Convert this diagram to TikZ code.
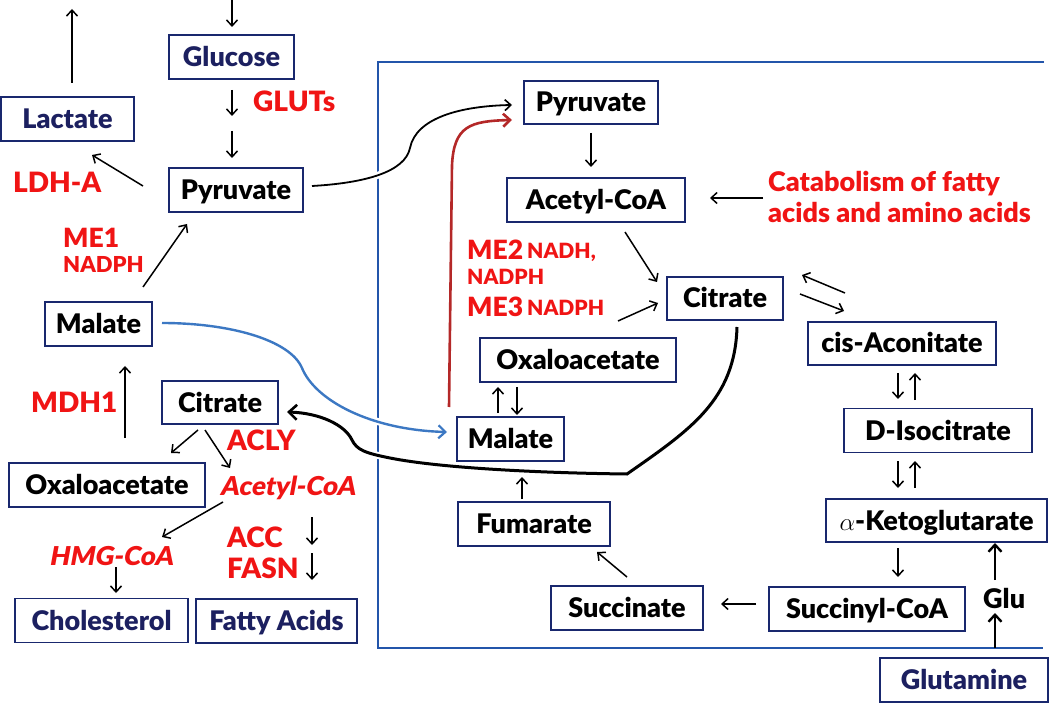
\documentclass[tikz,border=0pt]{standalone}
\usepackage{fontspec}
\setmainfont{Lato}[BoldFont={Lato Black}]
\newfontface\itbfont{Lato Black}[FakeSlant=0.18]
\usetikzlibrary{arrows.meta}
\definecolor{navy}{RGB}{28,32,96}
\definecolor{boxc}{RGB}{25,40,110}
\definecolor{enz}{RGB}{240,20,20}
\definecolor{framec}{RGB}{35,85,170}
\definecolor{bcurve}{RGB}{60,120,195}
\definecolor{rcurve}{RGB}{180,40,40}
\begin{document}
\begin{tikzpicture}[x=1pt,y=-1pt,
  bx/.style={draw=boxc,line width=1.6pt,minimum height=44pt,inner sep=0pt,
    text height=19pt,text depth=0pt,font=\fontsize{27}{29}\selectfont\bfseries},
  nv/.style={bx,text=navy},
  lab/.style={text=enz,inner sep=0pt,font=\fontsize{28}{30}\selectfont\bfseries},
  labme/.style={text=enz,inner sep=0pt,font=\fontsize{26.5}{28}\selectfont\bfseries},
  labi/.style={text=enz,inner sep=0pt,font=\itbfont\fontsize{26}{28}\selectfont},
  labs/.style={text=enz,inner sep=0pt,font=\fontsize{22}{24}\selectfont\bfseries},
  labss/.style={text=enz,inner sep=0pt,font=\fontsize{21}{23}\selectfont\bfseries},
  labc/.style={text=enz,inner sep=0pt,font=\fontsize{27}{29}\selectfont\bfseries},
  arr/.style={line width=1.5pt,-{Straight Barb[length=6pt,width=11pt,line width=1.5pt]}},
  thickarr/.style={line width=2.4pt,-{Straight Barb[length=7pt,width=13pt,line width=2.4pt]}},
  gap/.style={preaction={draw=white,line width=7pt,-}},
]
\useasboundingbox (0,0) rectangle (1050,703);

% compartment frame
\draw[framec,line width=2pt] (1044,62) -- (378,62) -- (378,648) -- (1043,648);

% nodes
\node[nv,minimum width=125pt] (glucose) at (231.5,57) {Glucose};
\node[nv,minimum width=133pt] (lactate) at (67.5,119) {Lactate};
\node[bx,minimum width=134pt] (pyrL) at (236,190) {Pyruvate};
\node[bx,minimum width=107pt] (malL) at (98.5,324) {Malate};
\node[bx,minimum width=116pt,minimum height=43pt] (citL) at (220,402.5) {Citrate};
\node[bx,minimum width=196pt] (oaaL) at (107,485) {Oxaloacetate};
\node[nv,minimum width=173pt] (chol) at (101.5,620.5) {Cholesterol};
\node[nv,minimum width=161pt] (fatty) at (276.5,621) {Fatty Acids};
\node[bx,minimum width=134pt,minimum height=43pt] (pyrR) at (591,102.5) {Pyruvate};
\node[bx,minimum width=178pt] (acR) at (596,200) {Acetyl-CoA};
\node[bx,minimum width=116pt,minimum height=43pt] (citR) at (725,298.5) {Citrate};
\node[bx,minimum width=196pt] (oaaR) at (578,360) {Oxaloacetate};
\node[bx,minimum width=107pt] (malR) at (510.5,439) {Malate};
\node[bx,minimum width=188pt,minimum height=43pt] (cis) at (902,343.5) {cis-Aconitate};
\node[bx,minimum width=188pt] (iso) at (938,430.5) {D-Isocitrate};
\node[bx,minimum width=221pt,minimum height=43pt] (akg) at (936.5,520.5) {$\alpha$-Ketoglutarate};
\node[bx,minimum width=152pt] (fum) at (534,524) {Fumarate};
\node[bx,minimum width=152pt] (succ) at (627,608) {Succinate};
\node[bx,minimum width=196pt] (scoa) at (867,609) {Succinyl-CoA};
\node[nv,minimum width=168pt] (gln) at (964,680) {Glutamine};

% labels
\node[lab,anchor=base west] (gluts) at (253,112) {GLUTs};
\node[lab,anchor=base west] (ldha) at (13,193) {LDH-A};
\node[labme,anchor=base west] (me1) at (63,248) {ME1};
\node[labs,anchor=base west] (nadph1) at (63,273) {NADPH};
\node[lab,anchor=base west] (mdh1) at (31,412) {MDH1};
\node[lab,anchor=base west] (acly) at (227,450) {ACLY};
\node[labi,anchor=base west] (acoa) at (220,495) {Acetyl-CoA};
\node[labi,anchor=base west] (hmg) at (49,565) {HMG-CoA};
\node[lab,anchor=base west] (acc) at (227,547) {ACC};
\node[lab,anchor=base west] (fasn) at (227,578) {FASN};
\node[labme,anchor=base west] (me2) at (467,260) {ME2};
\node[labss,anchor=base west] (nadh) at (527,259) {NADH,};
\node[labss,anchor=base west] (nadph2) at (467,285) {NADPH};
\node[labme,anchor=base west] (me3) at (467,317) {ME3};
\node[labss,anchor=base west] (nadph3) at (527,316) {NADPH};
\node[labc,anchor=base west] (cat1) at (768,192) {Catabolism of fatty};
\node[labc,anchor=base west] (cat2) at (768,223) {acids and amino acids};
\node[inner sep=0pt,anchor=base west,font=\fontsize{27}{29}\selectfont\bfseries] (glu) at (983,608) {Glu};

% free arrow end points
\coordinate (inS) at (232,0);   \coordinate (inE) at (232,27);
\coordinate (outS) at (72,83);  \coordinate (outE) at (72,9);
\coordinate (g1s) at (232,90);  \coordinate (g1e) at (232,116);
\coordinate (g2s) at (232,131); \coordinate (g2e) at (232,158);
\coordinate (ldS) at (143,186); \coordinate (ldE) at (92,155);
\coordinate (m1S) at (143,287); \coordinate (m1E) at (187,224);
\coordinate (mdS) at (125,438); \coordinate (mdE) at (125,366);
\coordinate (c1S) at (198,430); \coordinate (c1E) at (171,453);
\coordinate (c2S) at (205,430); \coordinate (c2E) at (230,468);
\coordinate (hS) at (223,502);  \coordinate (hE) at (162,537);
\coordinate (chS) at (116,567); \coordinate (chE) at (116,593);
\coordinate (f1S) at (312,517); \coordinate (f1E) at (312,545);
\coordinate (f2S) at (312,553); \coordinate (f2E) at (312,580);
\coordinate (paS) at (591,133); \coordinate (paE) at (591,167);
\coordinate (caS) at (763,198); \coordinate (caE) at (710,198);
\coordinate (acS) at (625,232); \coordinate (acE) at (657,282);
\coordinate (meS) at (618,321); \coordinate (meE) at (658,303);
\coordinate (ccS) at (845,293); \coordinate (ccE) at (802,275);
\coordinate (cdS) at (800,294); \coordinate (cdE) at (844,311);
\coordinate (i1S) at (898,373); \coordinate (i1E) at (898,399);
\coordinate (i2S) at (915,400); \coordinate (i2E) at (915,373);
\coordinate (k1S) at (898,461); \coordinate (k1E) at (898,488);
\coordinate (k2S) at (915,488); \coordinate (k2E) at (915,461);
\coordinate (ksS) at (898,548); \coordinate (ksE) at (898,577);
\coordinate (ssS) at (756,604); \coordinate (ssE) at (721,604);
\coordinate (sfS) at (627,577); \coordinate (sfE) at (597,552);
\coordinate (fmS) at (522,499); \coordinate (fmE) at (522,477);
\coordinate (moS) at (498,413); \coordinate (moE) at (498,387);
\coordinate (omS) at (517,387); \coordinate (omE) at (517,415);
\coordinate (guS) at (995,580); \coordinate (guE) at (995,543);
\coordinate (glS) at (995,648); \coordinate (glE) at (995,613);
\coordinate (pcS) at (312,186); \coordinate (pcE) at (512,105);
\coordinate (rcS) at (449,407); \coordinate (rcE) at (512,120);
\coordinate (bcS) at (162,323); \coordinate (bcE) at (447,432);
\coordinate (kcS) at (737,327); \coordinate (kcM) at (627,474); \coordinate (kcE) at (287,412);

% straight arrows
\foreach \s/\e in {inS/inE,outS/outE,g1s/g1e,g2s/g2e,ldS/ldE,m1S/m1E,mdS/mdE,
  c1S/c1E,c2S/c2E,hS/hE,chS/chE,f1S/f1E,f2S/f2E,paS/paE,caS/caE,acS/acE,meS/meE,
  ccS/ccE,cdS/cdE,i1S/i1E,i2S/i2E,k1S/k1E,k2S/k2E,ksS/ksE,ssS/ssE,sfS/sfE,fmS/fmE,
  moS/moE,omS/omE}
  \draw[arr] (\s) -- (\e);
\draw[thickarr] (guS) -- (guE);
\draw[thickarr] (glS) -- (glE);

% curved connectors
\draw[gap,line width=1.8pt,-{Straight Barb[length=6pt,width=11pt,line width=1.6pt]}]
  (pcS) .. controls (365,183) and (405,172) .. (410,148)
        .. controls (416,118) and (460,106) .. (pcE);
\draw[rcurve,line width=2.6pt,-{Straight Barb[length=7pt,width=13pt,line width=2.6pt]}]
  (rcS) -- (452,165) .. controls (454,126) and (470,121) .. (rcE);
\draw[gap,bcurve,line width=2.4pt,-{Straight Barb[length=7pt,width=13pt,line width=2.2pt]}]
  (bcS) .. controls (230,323) and (290,340) .. (302,368)
        .. controls (315,400) and (370,430) .. (bcE);
\draw[gap,line width=3pt,-{Straight Barb[length=8pt,width=15pt,line width=2.6pt]}]
  (kcS) .. controls (735,400) and (690,430) .. (kcM)
        .. controls (540,473) and (440,468) .. (390,458)
        .. controls (365,453) and (357,450) .. (352,440)
        .. controls (345,425) and (320,413) .. (kcE);
\end{tikzpicture}
\end{document}
